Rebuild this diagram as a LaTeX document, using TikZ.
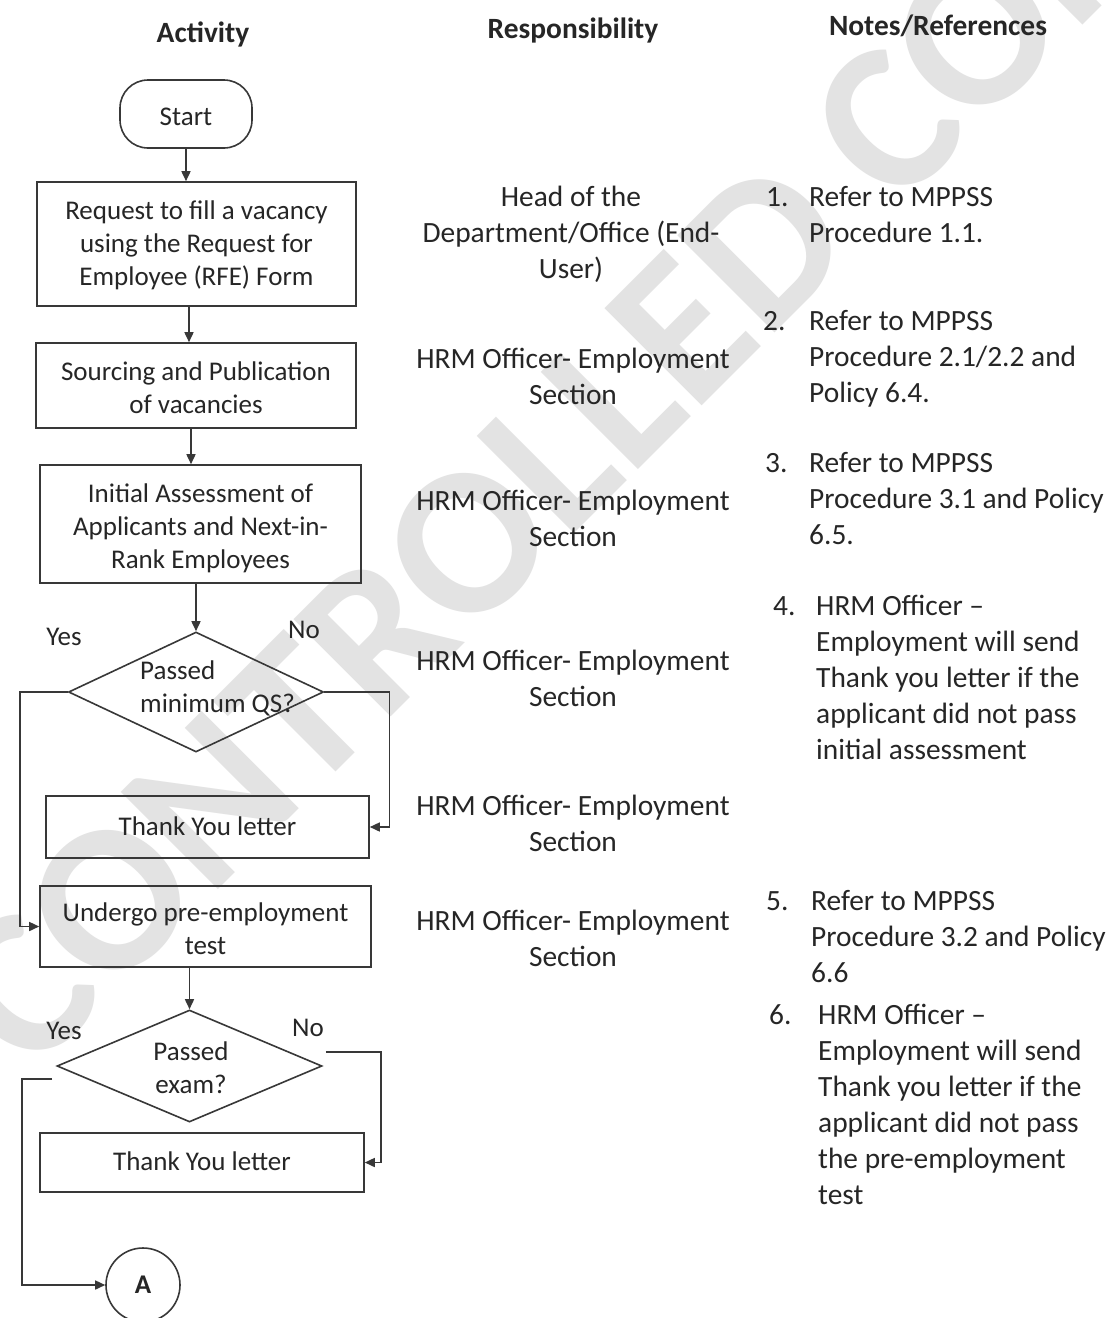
\documentclass[tikz,border=0pt]{standalone}
\usepackage{fontspec}
\setmainfont{Carlito}
\usetikzlibrary{shapes.geometric,arrows.meta}
\newcommand\bigtxt{\fontsize{29.4pt}{36pt}\selectfont}
\newcommand\boxtxt{\fontsize{27pt}{33pt}\selectfont}
\newcommand\tp[1]{\rule{0pt}{#1}}
\definecolor{ink}{HTML}{262626}
\definecolor{edge}{HTML}{383838}
\definecolor{wmark}{HTML}{E3E3E3}
\tikzset{
  box/.style={draw=edge, line width=1.6pt, rectangle, inner sep=0pt, align=center, font=\boxtxt, text=ink},
  startbox/.style={box, rounded corners=28pt},
  dia/.style={draw=edge, line width=1.6pt, diamond, inner sep=0pt},
  lbl/.style={inner sep=0pt, font=\boxtxt, text=ink, align=center},
  resp/.style={inner sep=0pt, font=\bigtxt, text=ink, align=center},
  note/.style={inner sep=0pt, font=\bigtxt, text=ink, align=left, anchor=north west},
  head/.style={inner sep=0pt, font=\bigtxt\bfseries, text=ink},
  arr/.style={draw=edge, line width=1.6pt, -{Triangle[length=10pt,width=9pt]}},
}
\begin{document}
\begin{tikzpicture}[x=1pt,y=-1pt]
\useasboundingbox (0,0) rectangle (1108,1318);
\clip (0,0) rectangle (1108,1318);
\fill[white] (0,0) rectangle (1108,1318);

% watermark (behind everything)
\node[anchor=base west, rotate=45, inner sep=0pt, font=\fontsize{212pt}{212pt}\selectfont\bfseries,
  text=wmark] (wm) at (30,1078) {CONTROLLED COPY};

% headers
\node[head] (h1) at (203,34) {Activity};
\node[head] (h2) at (573,30) {Responsibility};
\node[head] (h3) at (938,26) {Notes/References};

% flow nodes
\node[startbox, minimum width=132pt, minimum height=68pt] (st) at (186,114) {\tp{32.9pt}Start\strut};
\node[box, minimum width=319pt, minimum height=124pt] (b1) at (196.5,244) {\tp{25.9pt}Request to fill a vacancy\\using the Request for\\Employee (RFE) Form\strut};
\node[box, minimum width=320pt, minimum height=85pt] (b2) at (196,385.5) {\tp{31.9pt}Sourcing and Publication\\of vacancies\strut};
\node[box, minimum width=321pt, minimum height=118pt] (b3) at (200.5,524) {\tp{32.9pt}Initial Assessment of\\Applicants and Next-in-\\Rank Employees\strut};
\node[dia, minimum width=255pt, minimum height=120pt] (d1) at (196,692) {};
\node[lbl, align=left, anchor=west] (d1t) at (140,689.4) {\strut Passed\\minimum QS?\strut};
\node[box, minimum width=323pt, minimum height=62pt] (ty1) at (207.5,827) {\tp{26.9pt}Thank You letter\strut};
\node[box, minimum width=331pt, minimum height=81pt] (u) at (205.5,926.5) {\tp{32.9pt}Undergo pre-employment\\test\strut};
\node[dia, minimum width=265pt, minimum height=112pt] (d2) at (189.5,1066) {};
\node[lbl] (d2t) at (191,1070) {\strut Passed\\exam?\strut};
\node[box, minimum width=324pt, minimum height=59pt] (ty2) at (202,1162.5) {\tp{25.9pt}Thank You letter\strut};
\node[draw=edge, line width=1.6pt, circle, minimum size=74pt, inner sep=0pt, font=\boxtxt\bfseries, text=ink] (A) at (143,1285) {A};

% yes/no labels
\node[lbl] (y1) at (64,637) {Yes};
\node[lbl] (n1) at (304,630) {No};
\node[lbl] (y2) at (64,1031) {Yes};
\node[lbl] (n2) at (308,1028) {No};

% connectors
\draw[arr] (st.south) -- (st.south |- b1.north);
\draw[arr] (b1.south -| 189,0) -- (b2.north -| 189,0);
\draw[arr] (b2.south -| 191,0) -- (b3.north -| 191,0);
\draw[arr] (d1.north |- b3.south) -- (d1.north);
\draw[arr] (d1.west) -- ++(-48,0) |- (u.west);
\draw[arr] (d1.east) -- ++(65,0) |- (ty1.east);
\draw[arr] (d2.north |- u.south) -- (d2.north);
\coordinate (d2y) at ([shift={(-4,13)}]d2.west);
\coordinate (d2n) at ([shift={(3,-14)}]d2.east);
\draw[arr] (d2y) -- ++(-30,0) |- (A.west);
\draw[arr] (d2n) -- ++(55,0) |- (ty2.east);

% responsibility column
\node[resp] (r1) at (571,235.5) {\strut Head of the\\Department/Office (End-\\User)\strut};
\node[resp] (r2) at (573,379) {\strut HRM Officer- Employment\\Section\strut};
\node[resp] (r3) at (573,521) {\strut HRM Officer- Employment\\Section\strut};
\node[resp] (r4) at (573,681) {\strut HRM Officer- Employment\\Section\strut};
\node[resp] (r5) at (573,826) {\strut HRM Officer- Employment\\Section\strut};
\node[resp] (r6) at (573,941) {\strut HRM Officer- Employment\\Section\strut};

% notes column
\node[note] (k1) at (766,181) {\strut 1.\strut};
\node[note] (t1) at (809,181) {\strut Refer to MPPSS\\Procedure 1.1.\strut};
\node[note] (k2) at (763,305) {\strut 2.\strut};
\node[note] (t2) at (809,305) {\strut Refer to MPPSS\\Procedure 2.1/2.2 and\\Policy 6.4.\strut};
\node[note] (k3) at (765,447) {\strut 3.\strut};
\node[note] (t3) at (809,447) {\strut Refer to MPPSS\\Procedure 3.1 and Policy\\6.5.\strut};
\node[note] (k4) at (773,590) {\strut 4.\strut};
\node[note] (t4) at (816,590) {\strut HRM Officer --\\Employment will send\\Thank you letter if the\\applicant did not pass\\initial assessment\strut};
\node[note] (k5) at (766,885) {\strut 5.\strut};
\node[note] (t5) at (811,885) {\strut Refer to MPPSS\\Procedure 3.2 and Policy\\6.6\strut};
\node[note] (k6) at (769,999) {\strut 6.\strut};
\node[note] (t6) at (818,999) {\strut HRM Officer --\\Employment will send\\Thank you letter if the\\applicant did not pass\\the pre-employment\\test\strut};
\end{tikzpicture}
\end{document}
